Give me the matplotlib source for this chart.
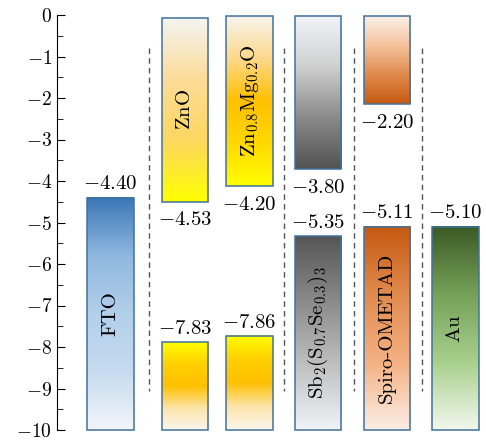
import matplotlib
matplotlib.use('Agg')
import matplotlib.pyplot as plt
from matplotlib.colors import LinearSegmentedColormap
from matplotlib.patches import Rectangle
import numpy as np

plt.rcParams['mathtext.fontset'] = 'cm'
plt.rcParams['font.family'] = ['cmr10', 'DejaVu Serif']

# band data (eV)
names = ['FTO', r'$\mathrm{ZnO}$', r'$\mathrm{Zn_{0.8}Mg_{0.2}O}$',
         r'$\mathrm{Sb_2(S_{0.7}Se_{0.3})_3}$', 'Spiro-OMETAD', r'$\mathrm{Au}$']
cb_top = [None, -0.07, -0.03, -0.03, -0.03, None]
cb_bot = [None, -4.50, -4.12, -3.72, -2.15, None]
vb_top = [-4.40, -7.88, -7.73, -5.33, -5.10, -5.10]
vb_bot = [-10, -10, -10, -10, -10, -10]
cb_labels = [None, '-4.53', '-4.20', '-3.80', '-2.20', None]
vb_labels = ['-4.40', '-7.83', '-7.86', '-5.35', '-5.11', '-5.10']
name_in_cb = [False, True, True, False, False, False]
dash_x = [1.353, 3.338, 4.368, 5.368]

# layout
xpos = [0.787, 1.882, 2.831, 3.838, 4.853, 5.860]
width = 0.69

# gradients top -> bottom
cb_cols = [None,
           ['#f4f4f2', '#fddc98', '#fdd760', '#ffff00'],
           ['#f8f5ee', '#fdd88a', '#ffc000', '#ffd800', '#ffff00'],
           ['#f2f4f7', '#d0d0d0', '#8a8a8a', '#525252'],
           ['#fbf1ea', '#f6c29c', '#e08a4e', '#c55a11'],
           None]
vb_cols = [['#3b76b6', '#8fb8e0', '#b3cfea', '#c6dbef', '#f2f6fb'],
           ['#ffff00', '#ffd000', '#ffc000', '#fde4a8', '#fbf6ee'],
           ['#ffff00', '#ffd000', '#ffc000', '#fde4a8', '#fbf6ee'],
           ['#555555', '#8a8a8a', '#c0c0c0', '#f0f3f7'],
           ['#c55a11', '#e08a4e', '#f4b183', '#fbeee6'],
           ['#3a5a26', '#76a157', '#a8d08d', '#f2f8ee']]

edge = '#41719c'
fs = 15


def grad_bar(ax, x, top, bot, cols):
    cmap = LinearSegmentedColormap.from_list('g', cols)
    img = np.linspace(0, 1, 256).reshape(-1, 1)
    ax.imshow(img, cmap=cmap, aspect='auto', interpolation='bicubic',
              extent=(x - width / 2, x + width / 2, bot, top), origin='upper', zorder=2)
    ax.add_patch(Rectangle((x - width / 2, bot), width, top - bot, fill=False,
                           edgecolor=edge, lw=1.1, zorder=3, clip_on=False))


fig = plt.figure(figsize=(4.86, 4.41), dpi=100)
ax = fig.add_axes([57 / 486, 11 / 441, 429 / 486, 415 / 441])

for i in range(len(names)):
    x = xpos[i]
    if cb_top[i] is not None:
        grad_bar(ax, x, cb_top[i], cb_bot[i], cb_cols[i])
        ax.annotate('$' + cb_labels[i] + '$', (x, cb_bot[i]), xytext=(0, -7),
                    textcoords='offset points', ha='center', va='top', fontsize=fs)
    grad_bar(ax, x, vb_top[i], vb_bot[i], vb_cols[i])
    ax.annotate('$' + vb_labels[i] + '$', (x, vb_top[i]), xytext=(0, 3),
                textcoords='offset points', ha='center', va='bottom', fontsize=fs)
    if name_in_cb[i]:
        yc = (cb_top[i] + cb_bot[i]) / 2
    else:
        yc = (vb_top[i] + vb_bot[i]) / 2
    ax.text(x, yc, names[i], rotation=90, ha='center', va='center', fontsize=fs, zorder=4)

for dx in dash_x:
    ax.plot([dx, dx], [-0.8, -9.07], ls=(0, (4, 3)), color='#555555', lw=1, zorder=1)

ax.set_xlim(0, 429 / 68)
ax.set_ylim(-10, 0)
ticks = list(range(0, -11, -1))
ax.set_yticks(ticks)
ax.set_yticklabels(['$%d$' % t for t in ticks])
ax.set_yticks(np.arange(-9.5, 0, 1), minor=True)
ax.tick_params(axis='y', which='major', direction='in', length=6, labelsize=14)
ax.tick_params(axis='y', which='minor', direction='in', length=4)
ax.set_xticks([])
for s in ['top', 'right', 'bottom']:
    ax.spines[s].set_visible(False)

fig.savefig('out.png', dpi=100)
